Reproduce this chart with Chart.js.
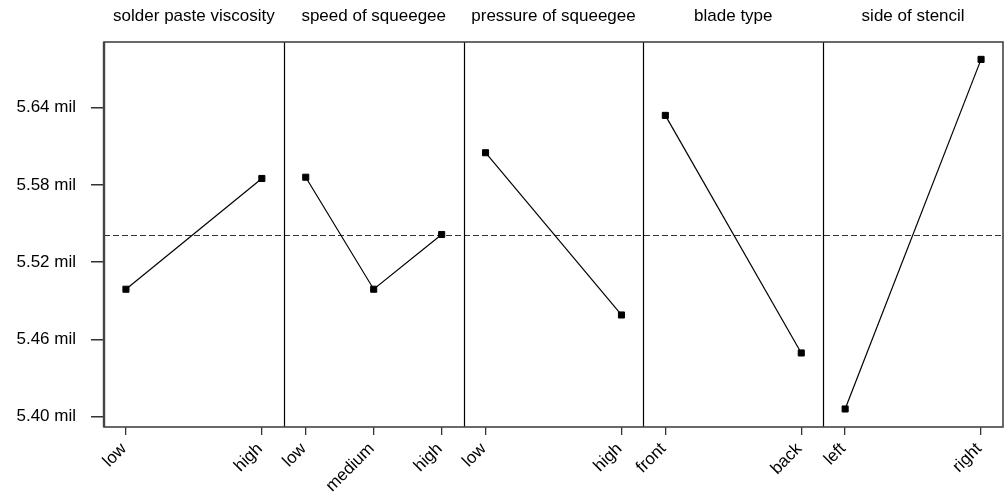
<!DOCTYPE html>
<html><head><meta charset="utf-8">
<script src="https://cdn.jsdelivr.net/npm/chart.js@4/dist/chart.umd.min.js"></script>
<style>html,body{margin:0;padding:0;background:#fff}#wrap{width:1004px;height:501px;position:relative}</style>
</head><body><div id="wrap"><canvas id="c"></canvas></div>
<script>
// ---- data ----
const factors = ['solder paste viscosity', 'speed of squeegee', 'pressure of squeegee', 'blade type', 'side of stencil'];
const levelsSolder = ['low', 'high'];
const levelsSpeed = ['low', 'medium', 'high'];
const levelsPressure = ['low', 'high'];
const levelsBlade = ['front', 'back'];
const levelsSide = ['left', 'right'];
const meansSolder = [5.499, 5.585];
const meansSpeed = [5.586, 5.499, 5.5415];
const meansPressure = [5.605, 5.479];
const meansBlade = [5.634, 5.4495];
const meansSide = [5.406, 5.6775];
const grandMean = 5.5415;
const yTickValues = [5.40, 5.46, 5.52, 5.58, 5.64];
const yMin = 5.392, yMax = 5.691;

const levels = [levelsSolder, levelsSpeed, levelsPressure, levelsBlade, levelsSide];
const means = [meansSolder, meansSpeed, meansPressure, meansBlade, meansSide];

// ---- styling ----
const FONT = {family: '"Liberation Sans", Arial, sans-serif', size: 17};
const edgeFrac = 0.122;

const datasets = levels.map((lv, i) => ({
  xAxisID: 'x' + i,
  data: lv.map((_, j) => ({x: j, y: means[i][j]})),
  borderColor: '#000',
  borderWidth: 1.2,
  backgroundColor: '#000',
  pointStyle: 'rect',
  pointRadius: 4.3,
  pointBorderWidth: 1,
  pointBorderColor: '#000',
  pointBackgroundColor: '#000',
  tension: 0,
  fill: false
}));

const scales = {
  y: {
    type: 'linear', position: 'left', min: yMin, max: yMax,
    afterBuildTicks: s => { s.ticks = yTickValues.map(v => ({value: v})); },
    afterFit: s => { s.width = 104; s.paddingTop = 0; s.paddingBottom = 0; },
    ticks: {font: FONT, color: '#000', padding: 15, callback: v => Number(v).toFixed(2) + ' mil'},
    grid: {display: true, drawOnChartArea: false, tickLength: 13, color: '#333', lineWidth: 1.5},
    border: {display: false}
  }
};
levels.forEach((lv, i) => {
  const range = (lv.length - 1) / (1 - 2 * edgeFrac);
  const mn = -edgeFrac * range;
  scales['x' + i] = {
    type: 'linear', position: 'bottom', stack: 'bottom', stackWeight: 1,
    min: mn, max: mn + range,
    afterBuildTicks: s => { s.ticks = lv.map((_, j) => ({value: j})); },
    afterFit: s => { s.height = 74; s.paddingLeft = 0; s.paddingRight = 0; },
    ticks: {font: FONT, color: '#000', autoSkip: false, minRotation: 45, maxRotation: 45, padding: 4,
            labelOffset: -2, callback: v => lv[v]},
    grid: {display: true, drawOnChartArea: false, tickLength: 8, color: '#333', lineWidth: 1.3},
    border: {display: false}
  };
});
// top boxes are laid out in reverse order, so use weights to keep left-to-right order
factors.forEach((f, i) => {
  scales['t' + i] = {
    type: 'linear', position: 'top', stack: 'top', stackWeight: 1, weight: factors.length - i,
    afterFit: s => { s.height = 42; s.paddingLeft = 0; s.paddingRight = 0; },
    ticks: {display: false},
    grid: {display: false, drawTicks: false},
    border: {display: false},
    title: {display: true, text: f, font: FONT, color: '#000', padding: {top: 6, bottom: 0}}
  };
});

const meanLine = {
  id: 'meanLine',
  beforeDatasetsDraw(chart) {
    const {ctx, chartArea: a, scales: {y}} = chart;
    const py = Math.round(y.getPixelForValue(grandMean)) + 0.5;
    ctx.save();
    ctx.strokeStyle = '#333';
    ctx.lineWidth = 1;
    ctx.setLineDash([6, 3]);
    ctx.beginPath(); ctx.moveTo(a.left, py); ctx.lineTo(a.right, py); ctx.stroke();
    ctx.restore();
  }
};
const frame = {
  id: 'frame',
  afterDatasetsDraw(chart) {
    const {ctx, chartArea: a} = chart;
    ctx.save();
    ctx.strokeStyle = '#000';
    ctx.lineWidth = 1.2;
    for (let i = 1; i < levels.length; i++) {
      const x = Math.round(chart.scales['x' + i].left) + 0.5;
      ctx.beginPath(); ctx.moveTo(x, a.top); ctx.lineTo(x, a.bottom); ctx.stroke();
    }
    ctx.strokeStyle = '#444';
    ctx.lineWidth = 1.6;
    ctx.strokeRect(a.left, a.top, a.right - a.left, a.bottom - a.top);
    ctx.lineWidth = 2.4;
    ctx.beginPath(); ctx.moveTo(a.left, a.top); ctx.lineTo(a.left, a.bottom); ctx.stroke();
    ctx.restore();
  }
};

new Chart(document.getElementById('c'), {
  type: 'line',
  data: {datasets},
  options: {
    responsive: true, maintainAspectRatio: false, animation: false, events: [],
    layout: {autoPadding: false, padding: {top: 0, right: 1, bottom: 0, left: 0}},
    plugins: {legend: {display: false}, tooltip: {enabled: false}},
    scales
  },
  plugins: [meanLine, frame]
});
</script>
</body></html>
